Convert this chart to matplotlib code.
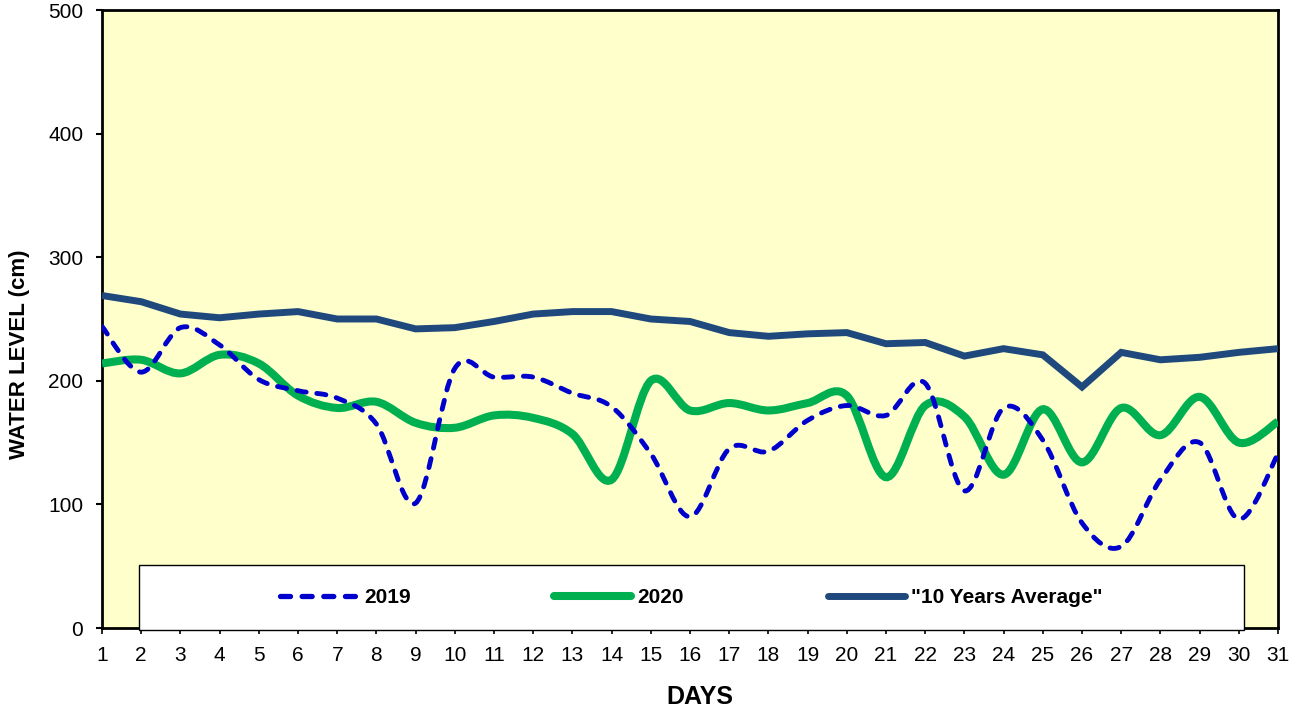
import numpy as np
import matplotlib
matplotlib.use("Agg")
import matplotlib.pyplot as plt
from matplotlib.path import Path
from matplotlib.patches import PathPatch, Rectangle
from matplotlib.lines import Line2D

plt.rcParams['font.family'] = ['Liberation Sans', 'DejaVu Sans']

days = list(range(1, 32))

level_2019 = [244, 207, 243, 229, 201, 192, 186, 165, 101, 210, 203, 203,
              190, 179, 141, 90, 145, 143, 168, 180, 172, 198, 111, 178,
              152, 85, 66, 120, 150, 88, 141]

level_2020 = [214, 217, 206, 221, 214, 188, 178, 183, 166, 162, 172, 170,
              157, 120, 200, 176, 182, 176, 182, 188, 122, 180, 171, 124,
              177, 134, 178, 156, 187, 150, 167]

ten_year_avg = [269, 264, 254, 251, 254, 256, 250, 250, 242, 243, 248, 254,
                256, 256, 250, 248, 239, 236, 238, 239, 230, 231, 220, 226,
                221, 195, 223, 217, 219, 223, 226]

y_ticks = [0, 100, 200, 300, 400, 500]

C_2019 = '#0000CC'
C_2020 = '#00B050'
C_AVG = '#1F497D'
FACE = '#FFFFCC'
DASH_2019 = (0, (1.9, 2.2))


def smooth_path(x, y):
    """Bezier path through every point (Catmull-Rom style tangents)."""
    pts = np.column_stack([x, y]).astype(float)
    n = len(pts)
    verts = [pts[0]]
    codes = [Path.MOVETO]
    for i in range(n - 1):
        p0 = pts[max(i - 1, 0)]
        p1 = pts[i]
        p2 = pts[i + 1]
        p3 = pts[min(i + 2, n - 1)]
        c1 = p1 + (p2 - p0) / 6.0
        c2 = p2 - (p3 - p1) / 6.0
        verts += [c1, c2, p2]
        codes += [Path.CURVE4] * 3
    return Path(verts, codes)


W, H = 1297, 717
fig = plt.figure(figsize=(W / 100, H / 100), dpi=100)
ax = fig.add_axes([102 / W, (H - 628) / H, 1176 / W, 618 / H])
ax.set_facecolor(FACE)

# 10-year average: straight segments
ax.plot(days, ten_year_avg, color=C_AVG, lw=5.0, solid_joinstyle='miter',
        solid_capstyle='butt', zorder=3)

# 2020: smoothed solid
ax.add_patch(PathPatch(smooth_path(days, level_2020), fill=False,
                       edgecolor=C_2020, lw=5.8, capstyle='butt', zorder=4))

# 2019: smoothed dashed
ax.add_patch(PathPatch(smooth_path(days, level_2019), fill=False,
                       edgecolor=C_2019, lw=3.5, linestyle=DASH_2019,
                       capstyle='round', zorder=5))

ax.set_xlim(1, 31)
ax.set_ylim(0, 500)
ax.set_xticks(days)
ax.set_xticklabels([str(d) for d in days])
ax.set_yticks(y_ticks)

for sp in ax.spines.values():
    sp.set_linewidth(2.0)
    sp.set_color('black')

ax.tick_params(axis='y', direction='out', length=4.5, width=1.5,
               labelsize=15, pad=9)
ax.tick_params(axis='x', direction='out', length=4.0, width=1.2,
               labelsize=15, pad=9)

ax.set_ylabel('WATER LEVEL (cm)', fontsize=16, fontweight='bold')
ax.yaxis.set_label_coords(-0.061, 0.443)
ax.set_xlabel('DAYS', fontsize=18, fontweight='bold')
ax.xaxis.set_label_coords(0.508, -0.093)

# legend box
box_l, box_r, box_t, box_b = 139, 1244, 565, 630
fig.add_artist(Rectangle((box_l / W, (H - box_b) / H),
                         (box_r - box_l) / W, (box_b - box_t) / H,
                         transform=fig.transFigure, facecolor='white',
                         edgecolor='black', lw=1.0, zorder=3))

handles = [
    Line2D([], [], color=C_2019, lw=3.8, linestyle=DASH_2019,
           dash_capstyle='round'),
    Line2D([], [], color=C_2020, lw=5.8, solid_capstyle='round'),
    Line2D([], [], color=C_AVG, lw=5.0, solid_capstyle='round'),
]
labels = ['2019', '2020', '"10 Years Average"']
leg = fig.legend(handles, labels, loc='center', ncol=3, frameon=False,
                 bbox_to_anchor=((box_l + box_r) / 2 / W,
                                 (H - (box_t + box_b) / 2) / H),
                 bbox_transform=fig.transFigure,
                 prop={'size': 15, 'weight': 'bold'},
                 handlelength=3.7, handletextpad=0.3, columnspacing=6.9)
leg.set_zorder(4)

fig.savefig('out.png', dpi=100)
